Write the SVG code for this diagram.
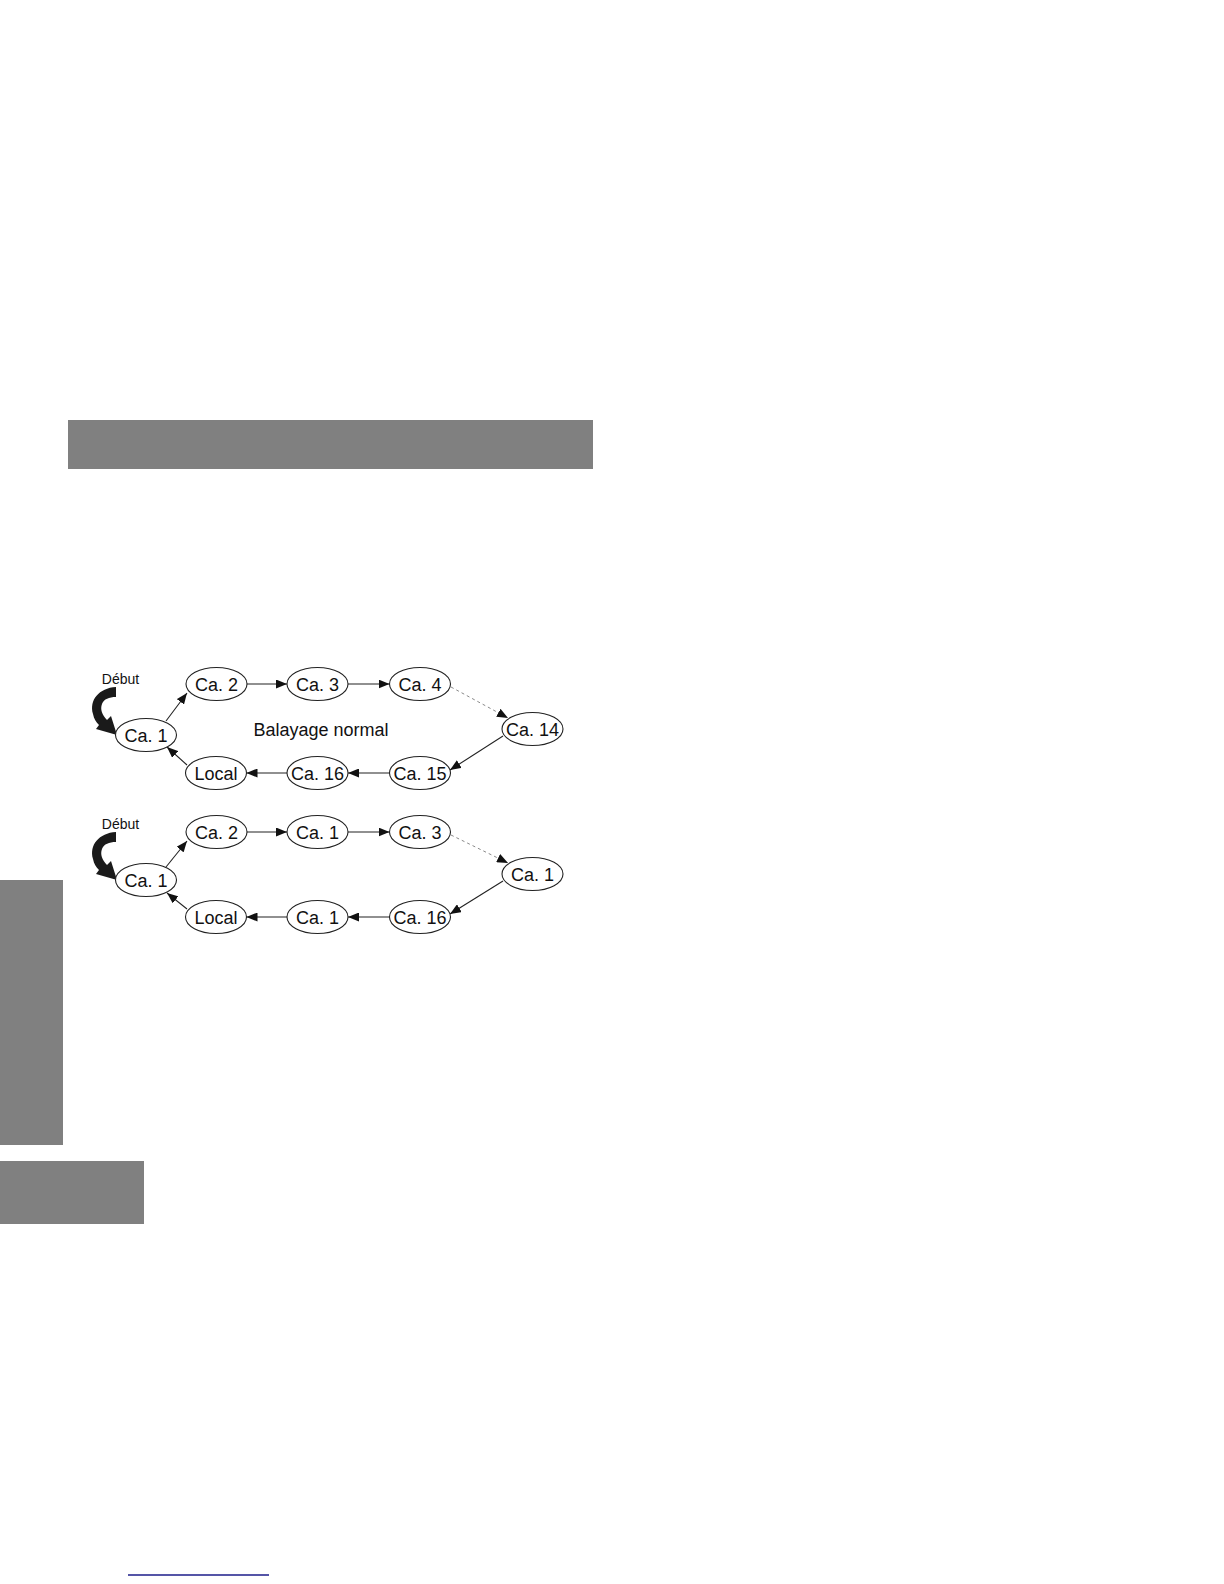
<svg xmlns="http://www.w3.org/2000/svg" width="1224" height="1584" viewBox="0 0 1224 1584">
<defs>
<style>
.bg{fill:#ffffff}
.bar{fill:#808080}
.node ellipse{fill:#ffffff;stroke:#222222;stroke-width:1.1}
.node text{font-family:"Liberation Sans",Arial,sans-serif;font-size:18px;fill:#111111;text-anchor:middle}
.lbl{font-family:"Liberation Sans",Arial,sans-serif;fill:#111111;text-anchor:middle}
.conn{stroke:#222222;stroke-width:1.1;fill:none;marker-end:url(#ah)}
.dot{stroke:#8a8a8a;stroke-width:1;stroke-dasharray:3 3;fill:none;marker-end:url(#ah)}
.start{fill:#1a1a1a}
</style>
<marker id="ah" markerUnits="userSpaceOnUse" markerWidth="11" markerHeight="9" refX="11" refY="4.5" orient="auto">
<path d="M0,0 L11,4.5 L0,9 Z" fill="#111111"/>
</marker>
</defs>
<rect class="bg" x="0" y="0" width="1224" height="1584"/>
<rect class="bar" x="68" y="420" width="525" height="49"/>
<rect class="bar" x="0" y="880" width="63" height="265"/>
<rect class="bar" x="0" y="1161" width="144" height="63"/>
<line x1="128" y1="1575" x2="269" y2="1575" stroke="#1c1c8a" stroke-width="1.5"/>

<g id="connectors">
<line class="conn" x1="166" y1="721" x2="187" y2="693"/>
<line class="conn" x1="247" y1="684" x2="287" y2="684"/>
<line class="conn" x1="348" y1="684" x2="389.5" y2="684"/>
<line class="dot" x1="451" y1="687" x2="508" y2="718"/>
<line class="conn" x1="503" y1="736" x2="450" y2="770"/>
<line class="conn" x1="389.5" y1="773" x2="348" y2="773"/>
<line class="conn" x1="287" y1="773" x2="246.5" y2="773"/>
<line class="conn" x1="187" y1="765" x2="167" y2="747"/>

<line class="conn" x1="166" y1="867" x2="187" y2="841"/>
<line class="conn" x1="247" y1="832" x2="287" y2="832"/>
<line class="conn" x1="348" y1="832" x2="389.5" y2="832"/>
<line class="dot" x1="451" y1="835" x2="508" y2="863"/>
<line class="conn" x1="503" y1="881" x2="450" y2="914"/>
<line class="conn" x1="389.5" y1="917" x2="348" y2="917"/>
<line class="conn" x1="287" y1="917" x2="246.5" y2="917"/>
<line class="conn" x1="187" y1="909" x2="167" y2="893"/>
</g>

<g id="start1">
<text class="lbl" x="120.5" y="684" font-size="14">Début</text>
<path class="start" d="M 116 687 C 99 688, 89 700, 93 714 C 94 719, 96 722, 99 725 L 96 729 L 117 735 L 111 716 L 107 720 C 102 715, 100 709, 102 704 C 104 699, 109 697, 116 697 Z"/>
</g>
<g id="start2" transform="translate(0,145)">
<text class="lbl" x="120.5" y="684" font-size="14">Début</text>
<path class="start" d="M 116 687 C 99 688, 89 700, 93 714 C 94 719, 96 722, 99 725 L 96 729 L 117 735 L 111 716 L 107 720 C 102 715, 100 709, 102 704 C 104 699, 109 697, 116 697 Z"/>
</g>

<text id="title1" class="lbl" x="321" y="736" font-size="18">Balayage normal</text>

<g id="r1-ca1" class="node"><ellipse cx="146" cy="735" rx="30.5" ry="16.5"/><text x="146" y="741.5">Ca. 1</text></g>
<g id="r1-ca2" class="node"><ellipse cx="216.5" cy="684" rx="30.5" ry="16.5"/><text x="216.5" y="690.5">Ca. 2</text></g>
<g id="r1-ca3" class="node"><ellipse cx="317.5" cy="684" rx="30.5" ry="16.5"/><text x="317.5" y="690.5">Ca. 3</text></g>
<g id="r1-ca4" class="node"><ellipse cx="420" cy="684" rx="30.5" ry="16.5"/><text x="420" y="690.5">Ca. 4</text></g>
<g id="r1-ca14" class="node"><ellipse cx="532.5" cy="729" rx="30.5" ry="16.5"/><text x="532.5" y="735.5">Ca. 14</text></g>
<g id="r1-ca15" class="node"><ellipse cx="420" cy="773" rx="30.5" ry="16.5"/><text x="420" y="779.5">Ca. 15</text></g>
<g id="r1-ca16" class="node"><ellipse cx="317.5" cy="773" rx="30.5" ry="16.5"/><text x="317.5" y="779.5">Ca. 16</text></g>
<g id="r1-local" class="node"><ellipse cx="216" cy="773" rx="30.5" ry="16.5"/><text x="216" y="779.5">Local</text></g>

<g id="r2-ca1a" class="node"><ellipse cx="146" cy="880" rx="30.5" ry="16.5"/><text x="146" y="886.5">Ca. 1</text></g>
<g id="r2-ca2" class="node"><ellipse cx="216.5" cy="832" rx="30.5" ry="16.5"/><text x="216.5" y="838.5">Ca. 2</text></g>
<g id="r2-ca1b" class="node"><ellipse cx="317.5" cy="832" rx="30.5" ry="16.5"/><text x="317.5" y="838.5">Ca. 1</text></g>
<g id="r2-ca3" class="node"><ellipse cx="420" cy="832" rx="30.5" ry="16.5"/><text x="420" y="838.5">Ca. 3</text></g>
<g id="r2-ca1c" class="node"><ellipse cx="532.5" cy="874" rx="30.5" ry="16.5"/><text x="532.5" y="880.5">Ca. 1</text></g>
<g id="r2-ca16" class="node"><ellipse cx="420" cy="917" rx="30.5" ry="16.5"/><text x="420" y="923.5">Ca. 16</text></g>
<g id="r2-ca1d" class="node"><ellipse cx="317.5" cy="917" rx="30.5" ry="16.5"/><text x="317.5" y="923.5">Ca. 1</text></g>
<g id="r2-local" class="node"><ellipse cx="216" cy="917" rx="30.5" ry="16.5"/><text x="216" y="923.5">Local</text></g>
</svg>
